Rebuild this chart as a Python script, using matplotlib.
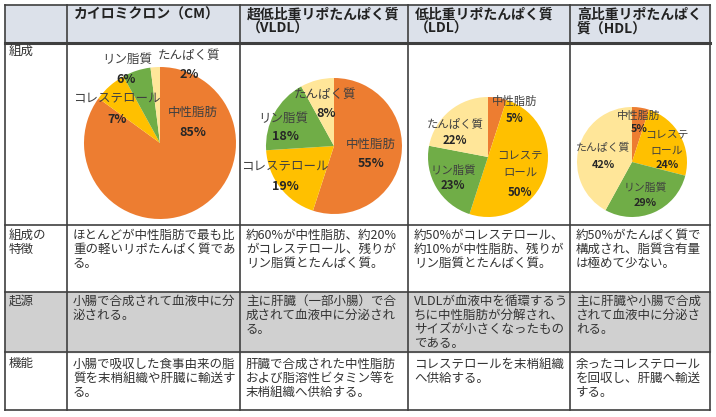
"""Lipoprotein comparison table with composition pies."""

import matplotlib

matplotlib.use("Agg")
import matplotlib.pyplot as plt

plt.rcParams["font.family"] = ["Noto Sans CJK JP", "DejaVu Sans"]

W, H = 716, 417

# ── Data ───────────────────────────────────────────────────────────────
components = ["中性脂肪", "コレステロール", "リン脂質", "たんぱく質"]
comp_colors = ["#ED7D31", "#FFC000", "#70AD47", "#FFE699"]

cm_values = [85, 7, 6, 2]
vldl_values = [55, 19, 18, 8]
ldl_values = [5, 50, 23, 22]
hdl_values = [5, 24, 29, 42]

headers = [
    ["カイロミクロン（CM）"],
    ["超低比重リポたんぱく質", "（VLDL）"],
    ["低比重リポたんぱく質", "（LDL）"],
    ["高比重リポたんぱく", "質（HDL）"],
]
row_labels = [["組成"], ["組成の", "特徴"], ["起源"], ["機能"]]

feature_text = [
    ["ほとんどが中性脂肪で最も比", "重の軽いリポたんぱく質であ", "る。"],
    ["約60%が中性脂肪、約20%", "がコレステロール、残りが", "リン脂質とたんぱく質。"],
    ["約50%がコレステロール、", "約10%が中性脂肪、残りが", "リン脂質とたんぱく質。"],
    ["約50%がたんぱく質で", "構成され、脂質含有量", "は極めて少ない。"],
]
origin_text = [
    ["小腸で合成されて血液中に分", "泌される。"],
    ["主に肝臓（一部小腸）で合", "成されて血液中に分泌され", "る。"],
    ["VLDLが血液中を循環するう", "ちに中性脂肪が分解され、", "サイズが小さくなったもの", "である。"],
    ["主に肝臓や小腸で合成", "されて血液中に分泌さ", "れる。"],
]
function_text = [
    ["小腸で吸収した食事由来の脂", "質を末梢組織や肝臓に輸送す", "る。"],
    ["肝臓で合成された中性脂肪", "および脂溶性ビタミン等を", "末梢組織へ供給する。"],
    ["コレステロールを末梢組織", "へ供給する。"],
    ["余ったコレステロール", "を回収し、肝臓へ輸送", "する。"],
]

# ── Layout (pixels) ────────────────────────────────────────────────────
col_x = [5, 67, 240, 408, 570, 710]
row_y = [5, 42.5, 225, 292, 352, 410]
LINE = 14.2

# pie centre (px), radius (px), label font size
pie_specs = [
    (cm_values, (160, 143), 76, 9.0),
    (vldl_values, (334, 146), 68, 9.0),
    (ldl_values, (488, 157), 60, 8.2),
    (hdl_values, (632, 162), 55, 7.8),
]
# label positions (px): name lines then percentage
pie_labels = [
    [((193, 112), ["中性脂肪"], (193, 132)),
     ((117, 99), ["コレステロール"], (117, 119)),
     ((127, 59), ["リン脂質"], (126, 79)),
     ((189, 55), ["たんぱく質"], (189, 74))],
    [((371, 144), ["中性脂肪"], (371, 163)),
     ((285, 167), ["コレステロール"], (285, 186)),
     ((283, 118), ["リン脂質"], (285, 137)),
     ((325, 94), ["たんぱく質"], (326, 113))],
    [((515, 101), ["中性脂肪"], (515, 118)),
     ((520, 156), ["コレステ", "ロール"], (520, 192)),
     ((453, 170), ["リン脂質"], (453, 185)),
     ((455, 124), ["たんぱく質"], (455, 141))],
    [((639, 116), ["中性脂肪"], (639, 129)),
     ((667, 134), ["コレステ", "ロール"], (667, 165)),
     ((645, 188), ["リン脂質"], (645, 203)),
     ((603, 148), ["たんぱく質"], (603, 165))],
]

fig = plt.figure(figsize=(W / 100, H / 100), dpi=100)
ax = fig.add_axes([0, 0, 1, 1])
ax.set_xlim(0, W)
ax.set_ylim(H, 0)
ax.axis("off")

# ── Backgrounds ────────────────────────────────────────────────────────
ax.add_patch(plt.Rectangle((col_x[0], row_y[0]), col_x[-1] - col_x[0],
                           row_y[1] - row_y[0], color="#DCE1EA", zorder=0))
ax.add_patch(plt.Rectangle((col_x[0], row_y[3]), col_x[-1] - col_x[0],
                           row_y[4] - row_y[3], color="#D0D0D0", zorder=0))

# ── Grid lines ─────────────────────────────────────────────────────────
for x in col_x:
    ax.plot([x, x], [row_y[0], row_y[-1]], color="#3F3F3F", lw=1.2, zorder=2)
for i, y in enumerate(row_y):
    lw = 2.2 if i == 1 else 1.2
    ax.plot([col_x[0], col_x[-1]], [y, y], color="#3F3F3F", lw=lw, zorder=2)

TXT = "#333333"

# headers
for j, lines in enumerate(headers):
    x0 = col_x[j + 1] + 7
    for k, line in enumerate(lines):
        ax.text(x0, 15 + k * 13.5, line, fontsize=10, fontweight="bold",
                color="#222222", va="center", ha="left")

# row labels
label_y = [row_y[1] + 9, row_y[2] + 10, row_y[3] + 9, row_y[4] + 12]
for lines, y0 in zip(row_labels, label_y):
    for k, line in enumerate(lines):
        ax.text(9, y0 + k * LINE, line, fontsize=9, color=TXT, va="center")

# body cells
for r, (texts, y0) in enumerate(zip([feature_text, origin_text, function_text],
                                    [row_y[2] + 10, row_y[3] + 9, row_y[4] + 12])):
    for j, lines in enumerate(texts):
        x0 = col_x[j + 1] + 6
        for k, line in enumerate(lines):
            ax.text(x0, y0 + k * LINE, line, fontsize=9.0, color=TXT, va="center")

# ── Pies ───────────────────────────────────────────────────────────────
for values, (cx, cy), rad, fs in pie_specs:
    pax = fig.add_axes([(cx - rad) / W, 1 - (cy + rad) / H, 2 * rad / W, 2 * rad / H])
    pax.pie(values, colors=comp_colors, startangle=90, counterclock=False,
            radius=1, wedgeprops=dict(linewidth=0))
    pax.set_xlim(-1, 1)
    pax.set_ylim(-1, 1)
    pax.set_aspect("equal")
    pax.axis("off")

# overlay for pie labels so they sit above the wedges
lax = fig.add_axes([0, 0, 1, 1])
lax.set_xlim(0, W)
lax.set_ylim(H, 0)
lax.axis("off")
lax.patch.set_alpha(0)
for (values, _, _, fs), labels in zip(pie_specs, pie_labels):
    for v, (npos, nlines, ppos) in zip(values, labels):
        for k, line in enumerate(nlines):
            lax.text(npos[0], npos[1] + k * 17, line, fontsize=fs, color="#404040",
                     ha="center", va="center")
        lax.text(ppos[0], ppos[1], f"{v}%", fontsize=fs, color="#262626",
                 fontweight="bold", ha="center", va="center")

fig.savefig("out.png", dpi=100)
